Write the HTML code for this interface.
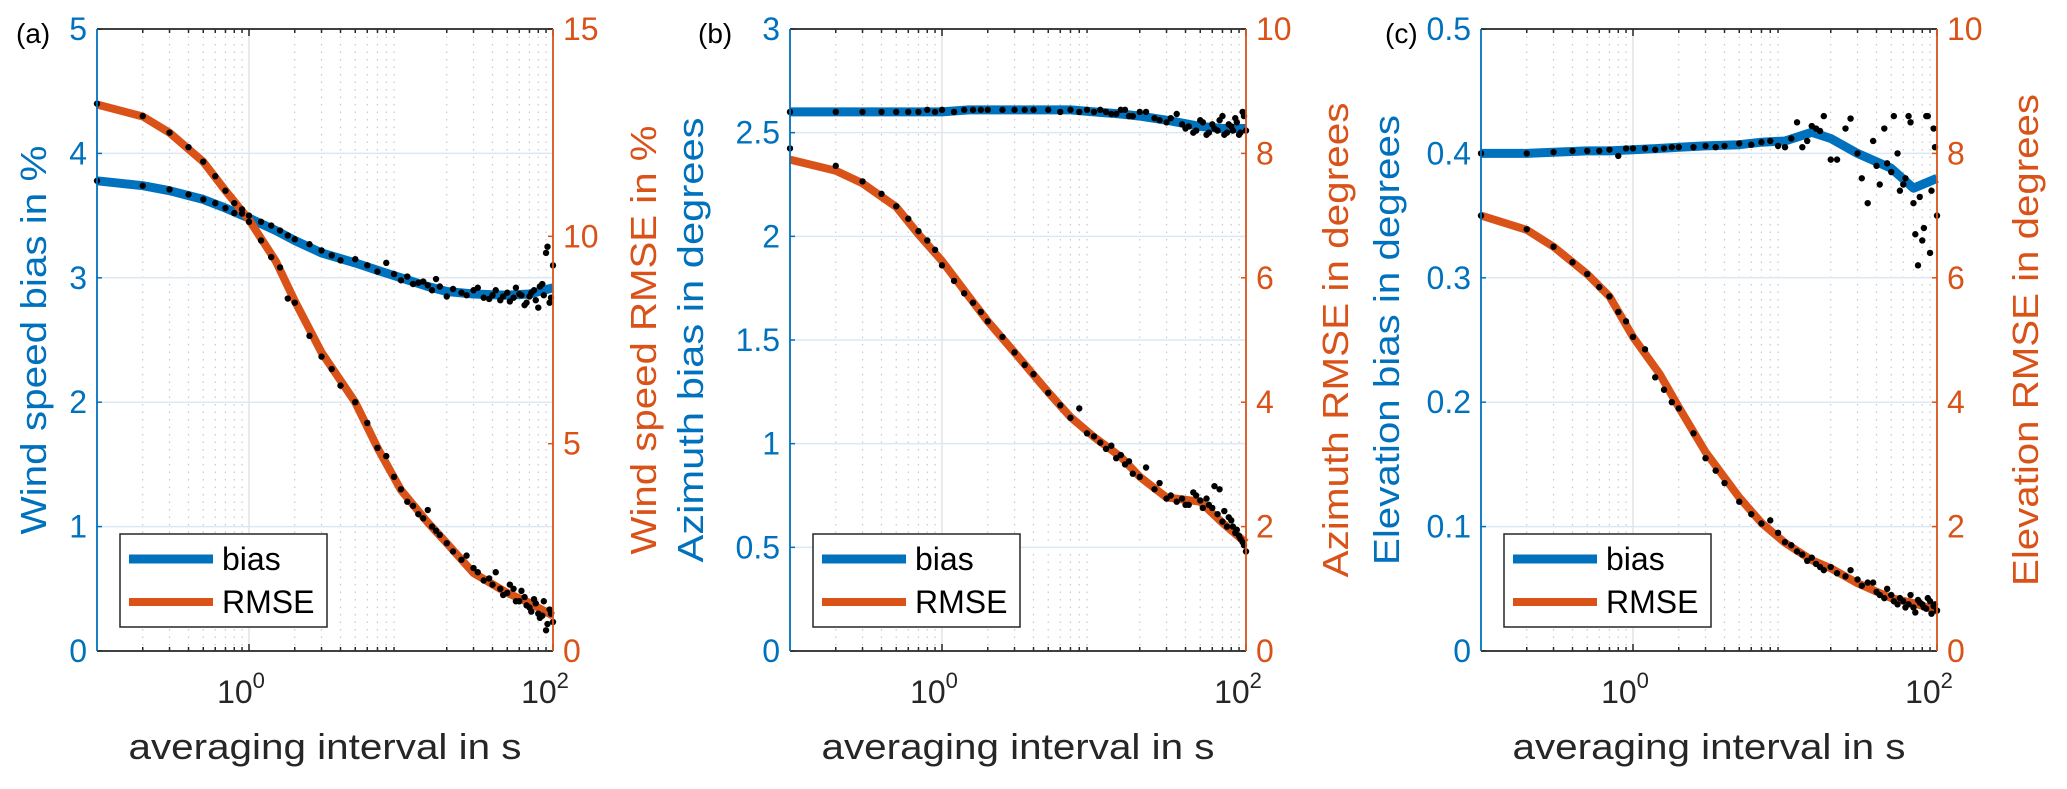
<!DOCTYPE html>
<html><head><meta charset="utf-8"><style>
html,body{margin:0;padding:0;background:#fff;}
svg{display:block;font-family:"Liberation Sans",Arial,sans-serif;}
</style></head><body>
<svg id="fig" width="2067" height="789" viewBox="0 0 2067 789" xmlns="http://www.w3.org/2000/svg"></svg>
<script>
// ---- shared x data ----
const lineX = [0.1,0.2,0.3,0.5,0.7,1,1.5,2,3,5,7,10,15,20,30,50,70,100];
const dotX = [0.1,0.2,0.3,0.4,0.5,0.6,0.7,0.8,0.9,1,1.2,1.4,1.6,1.8,2,2.5,3,3.5,4,5,6,7,8,9,10,12,14,16,18,20,25,30,35,40,45,50,55,60,65,70,75,80,85,90,95,100];
const dotX2 = [11,13,15,17,22,27,32,38,42,47,52,57,62,67,72,77,82,87,92,97];
// ---- panel (a) ----
const aBiasLine = [3.78,3.74,3.70,3.63,3.56,3.48,3.38,3.30,3.20,3.12,3.06,3.00,2.93,2.89,2.87,2.86,2.87,2.92];
const aRmseLine = [13.18,12.89,12.5,11.8,11.1,10.4,9.4,8.44,7.2,6.0,4.9,3.88,3.1,2.6,1.88,1.40,1.16,0.85];
const aBiasDots = [3.78,3.74,3.71,3.67,3.63,3.60,3.56,3.52,3.55,3.50,3.45,3.42,3.38,3.34,3.31,3.27,3.22,3.18,3.14,3.15,3.10,3.05,3.12,3.03,2.98,2.95,2.97,2.90,2.93,2.85,2.88,2.90,2.84,2.86,2.82,2.88,2.84,2.87,2.78,2.85,2.90,2.76,2.95,3.20,2.80,3.10];
const aRmseDots = [13.2,12.9,12.5,12.15,11.8,11.45,11.1,10.8,10.55,10.35,9.9,9.5,9.25,8.5,8.4,7.6,7.1,6.8,6.4,6.0,5.5,4.9,4.7,4.2,3.9,3.5,3.2,3.0,2.8,2.6,2.2,2.0,1.7,1.6,1.5,1.4,1.5,1.2,1.3,1.05,1.25,0.9,0.85,0.5,1.0,0.7];
const aBiasDots2 = [3.01,2.96,2.94,2.99,2.91,2.86,2.92,2.83,2.90,2.85,2.81,2.92,2.86,2.80,2.88,2.82,2.93,2.86,3.25,2.84];
const aRmseDots2 = [3.6,3.3,3.4,2.9,2.4,2.3,1.9,1.75,1.9,1.35,1.6,1.2,1.45,1.1,0.95,1.15,0.8,1.2,0.65,0.9];
// ---- panel (b) ----
const bBiasLine = [2.60,2.60,2.60,2.60,2.60,2.60,2.61,2.61,2.61,2.61,2.61,2.60,2.59,2.58,2.56,2.53,2.52,2.52];
const bRmseLine = [7.9,7.72,7.52,7.14,6.7,6.27,5.7,5.3,4.8,4.16,3.76,3.44,3.12,2.8,2.47,2.4,2.06,1.74];
const bBiasDots = [2.60,2.60,2.60,2.60,2.60,2.60,2.60,2.61,2.60,2.61,2.60,2.61,2.61,2.61,2.61,2.61,2.61,2.61,2.61,2.61,2.60,2.61,2.60,2.61,2.60,2.60,2.59,2.61,2.58,2.60,2.57,2.55,2.59,2.52,2.50,2.56,2.49,2.54,2.51,2.58,2.50,2.53,2.57,2.49,2.60,2.51];
const bRmseDots = [8.08,7.8,7.55,7.35,7.15,6.95,6.75,6.6,6.45,6.2,5.95,5.75,5.6,5.45,5.3,5.05,4.8,4.6,4.45,4.15,3.95,3.75,3.9,3.5,3.45,3.25,3.1,3.0,2.85,2.8,2.6,2.45,2.4,2.35,2.55,2.42,2.45,2.3,2.2,2.08,2.0,2.1,1.9,1.85,1.75,1.6];
const bBiasDots2 = [2.61,2.59,2.61,2.58,2.60,2.56,2.57,2.54,2.53,2.51,2.55,2.50,2.52,2.56,2.49,2.54,2.51,2.55,2.50,2.58];
const bRmseDots2 = [3.35,3.3,3.15,3.05,2.95,2.7,2.5,2.45,2.35,2.5,2.3,2.35,2.65,2.6,2.25,2.15,2.0,1.95,1.8,1.7];
// ---- panel (c) ----
const cBiasLine = [0.400,0.400,0.401,0.402,0.402,0.403,0.404,0.405,0.406,0.407,0.409,0.410,0.417,0.412,0.400,0.388,0.372,0.380];
const cRmseLine = [7.0,6.77,6.5,6.06,5.7,5.05,4.45,3.92,3.2,2.47,2.06,1.74,1.46,1.33,1.09,0.85,0.77,0.65];
const cBiasDots = [0.400,0.400,0.401,0.402,0.402,0.402,0.403,0.398,0.404,0.404,0.404,0.403,0.404,0.405,0.405,0.405,0.406,0.405,0.406,0.408,0.407,0.409,0.410,0.406,0.405,0.425,0.410,0.420,0.430,0.395,0.420,0.400,0.360,0.390,0.420,0.385,0.400,0.375,0.430,0.360,0.310,0.330,0.430,0.320,0.420,0.350];
const cRmseDots = [7.0,6.78,6.5,6.25,6.06,5.85,5.7,5.45,5.3,5.05,4.85,4.4,4.2,4.0,3.9,3.5,3.1,2.9,2.7,2.4,2.2,2.05,2.1,1.9,1.75,1.6,1.45,1.4,1.3,1.35,1.2,1.15,1.1,0.95,0.85,0.9,0.75,0.8,0.75,0.7,0.82,0.75,0.68,0.8,0.72,0.65];
const cBiasDots2 = [0.412,0.405,0.422,0.418,0.395,0.428,0.38,0.41,0.375,0.392,0.43,0.37,0.38,0.425,0.335,0.365,0.34,0.43,0.37,0.405];
const cRmseDots2 = [1.7,1.55,1.5,1.35,1.25,1.3,1.05,1.1,0.9,1.0,0.8,0.85,0.7,0.9,0.62,0.78,0.7,0.85,0.6,0.75];
// ---- tick labels ----
const aLeftTicks = [0,1,2,3,4,5];
const aRightTicks = [0,5,10,15];
const bLeftTicks = [0,0.5,1,1.5,2,2.5,3];
const bRightTicks = [0,2,4,6,8,10];
const cLeftTicks = [0,0.1,0.2,0.3,0.4,0.5];
const cRightTicks = [0,2,4,6,8,10];

const NS="http://www.w3.org/2000/svg";
const svg=document.getElementById('fig');
const BLUE="#0072BD", ORANGE="#D95319";
const TOP=29, BOT=651, W=456;
function mk(tag,parent){const e=document.createElementNS(NS,tag);parent.appendChild(e);return e;}

const panels=[
 {id:'a',x0:97,lmax:5,rmax:15,lt:aLeftTicks,rt:aRightTicks,bl:aBiasLine,rl:aRmseLine,bd:aBiasDots,rd:aRmseDots,bd2:aBiasDots2,rd2:aRmseDots2,
  llab:'Wind speed bias in %',rlab:'Wind speed RMSE in %',lOff:64,lLen:389,rLen:429,rOff:90},
 {id:'b',x0:790,lmax:3,rmax:10,lt:bLeftTicks,rt:bRightTicks,bl:bBiasLine,rl:bRmseLine,bd:bBiasDots,rd:bRmseDots,bd2:bBiasDots2,rd2:bRmseDots2,
  llab:'Azimuth bias in degrees',rlab:'Azimuth RMSE in degrees',lOff:100,lLen:445,rLen:475,rOff:89},
 {id:'c',x0:1481,lmax:0.5,rmax:10,lt:cLeftTicks,rt:cRightTicks,bl:cBiasLine,rl:cRmseLine,bd:cBiasDots,rd:cRmseDots,bd2:cBiasDots2,rd2:cRmseDots2,
  llab:'Elevation bias in degrees',rlab:'Elevation RMSE in degrees',lOff:95,lLen:450,rLen:492,rOff:88}
];

panels.forEach(p=>{
 const g=mk('g',svg);
 
 
 const xs=v=>p.x0+(Math.log10(v)+1)/3*W;
 const yl=v=>BOT-(v/p.lmax)*(BOT-TOP);
 const yr=v=>BOT-(v/p.rmax)*(BOT-TOP);
 const x1=p.x0+W;
 for(let d=-1;d<2;d++){for(let m=2;m<=9;m++){const xv=xs(m*Math.pow(10,d));
  const l=mk('line',g);l.setAttribute('x1',xv);l.setAttribute('x2',xv);l.setAttribute('y1',TOP);l.setAttribute('y2',BOT);
  l.setAttribute('stroke','#c8c8c8');l.setAttribute('stroke-width','1.2');l.setAttribute('stroke-dasharray','1.5 6');
  
  [TOP,BOT].forEach(yy=>{const t=mk('line',g);t.setAttribute('x1',xv);t.setAttribute('x2',xv);t.setAttribute('y1',yy);t.setAttribute('y2',yy===TOP?yy+4:yy-4);t.setAttribute('stroke','#262626');t.setAttribute('stroke-width','1.5');
   });
 }}
 p.lt.forEach(v=>{const y=yl(v);const l=mk('line',g);l.setAttribute('x1',p.x0);l.setAttribute('x2',x1);l.setAttribute('y1',y);l.setAttribute('y2',y);
  l.setAttribute('stroke','#dce9f5');l.setAttribute('stroke-width','1.5');
  
  const t=mk('line',g);t.setAttribute('x1',p.x0);t.setAttribute('x2',p.x0+5);t.setAttribute('y1',y);t.setAttribute('y2',y);t.setAttribute('stroke',BLUE);t.setAttribute('stroke-width','1.5');
  
  const tx=mk('text',g);tx.textContent=String(v);tx.setAttribute('x',p.x0-10);tx.setAttribute('y',y+11);tx.setAttribute('text-anchor','end');tx.setAttribute('font-size','32');tx.setAttribute('fill',BLUE);
  });
 p.rt.forEach(v=>{const y=yr(v);
  const t=mk('line',g);t.setAttribute('x1',x1-5);t.setAttribute('x2',x1);t.setAttribute('y1',y);t.setAttribute('y2',y);t.setAttribute('stroke',ORANGE);t.setAttribute('stroke-width','1.5');
  
  const tx=mk('text',g);tx.textContent=String(v);tx.setAttribute('x',x1+10);tx.setAttribute('y',y+11);tx.setAttribute('font-size','32');tx.setAttribute('fill',ORANGE);
  });
 const xm=xs(1);const lm=mk('line',g);lm.setAttribute('x1',xm);lm.setAttribute('x2',xm);lm.setAttribute('y1',TOP);lm.setAttribute('y2',BOT);lm.setAttribute('stroke','#e3e3e3');lm.setAttribute('stroke-width','1.5');
 
 [[1,'0'],[100,'2']].forEach(([v,e])=>{const xv=xs(v);
  [TOP,BOT].forEach(yy=>{const t=mk('line',g);t.setAttribute('x1',xv);t.setAttribute('x2',xv);t.setAttribute('y1',yy);t.setAttribute('y2',yy===TOP?yy+7:yy-7);t.setAttribute('stroke','#262626');t.setAttribute('stroke-width','1.5');
   });
  const tx=mk('text',g);tx.setAttribute('x',xv-8);tx.setAttribute('y',703);tx.setAttribute('text-anchor','middle');tx.setAttribute('font-size','32');tx.setAttribute('fill','#262626');
  
  tx.textContent='10';const sp=mk('tspan',tx);sp.setAttribute('font-size','22');sp.setAttribute('dy','-15');sp.textContent=e;});
 function path(arr,fy){return lineX.map((xv,i)=>(i?'L':'M')+xs(xv).toFixed(1)+','+fy(arr[i]).toFixed(1)).join(' ');}
 const pb=mk('path',g);pb.setAttribute('d',path(p.bl,yl));pb.setAttribute('fill','none');pb.setAttribute('stroke',BLUE);pb.setAttribute('stroke-width','9');pb.setAttribute('stroke-linejoin','round');
 
 const pr=mk('path',g);pr.setAttribute('d',path(p.rl,yr));pr.setAttribute('fill','none');pr.setAttribute('stroke',ORANGE);pr.setAttribute('stroke-width','8');pr.setAttribute('stroke-linejoin','round');
 
 function dots(xarr,barr,rarr){xarr.forEach((xv,i)=>{
  const c1=mk('circle',g);c1.setAttribute('cx',xs(xv));c1.setAttribute('cy',yl(barr[i]));c1.setAttribute('r','3.2');c1.setAttribute('fill','#000');
  
  const c2=mk('circle',g);c2.setAttribute('cx',xs(xv));c2.setAttribute('cy',yr(rarr[i]));c2.setAttribute('r','3.2');c2.setAttribute('fill','#000');
  });}
 dots(dotX,p.bd,p.rd);
 dots(dotX2,p.bd2,p.rd2);
 const ax=(xa,ya,xb,yb,c,n)=>{const l=mk('line',g);l.setAttribute('x1',xa);l.setAttribute('y1',ya);l.setAttribute('x2',xb);l.setAttribute('y2',yb);l.setAttribute('stroke',c);l.setAttribute('stroke-width','1.8');
  };
 ax(p.x0,TOP,x1,TOP,'#262626','top-axis');ax(p.x0,BOT,x1,BOT,'#262626','x-axis');
 ax(p.x0,TOP,p.x0,BOT,BLUE,'left-y-axis');ax(x1,TOP,x1,BOT,ORANGE,'right-y-axis');
 const cy=(TOP+BOT)/2;
 const lt=mk('text',g);lt.textContent=p.llab;lt.setAttribute('font-size','36');lt.setAttribute('fill',BLUE);lt.setAttribute('text-anchor','middle');
 lt.setAttribute('textLength',p.lLen);lt.setAttribute('lengthAdjust','spacingAndGlyphs');
 lt.setAttribute('transform',`translate(${p.x0-p.lOff+13},${cy}) rotate(-90)`);
 
 const rt=mk('text',g);rt.textContent=p.rlab;rt.setAttribute('font-size','36');rt.setAttribute('fill',ORANGE);rt.setAttribute('text-anchor','middle');
 rt.setAttribute('textLength',p.rLen);rt.setAttribute('lengthAdjust','spacingAndGlyphs');
 rt.setAttribute('transform',`translate(${x1+p.rOff+13},${cy}) rotate(-90)`);
 
 const xt=mk('text',g);xt.textContent='averaging interval in s';xt.setAttribute('font-size','36');xt.setAttribute('fill','#262626');xt.setAttribute('text-anchor','middle');
 xt.setAttribute('x',p.x0+W/2);xt.setAttribute('y',759);xt.setAttribute('textLength','393');xt.setAttribute('lengthAdjust','spacingAndGlyphs');
 
 const pl=mk('text',g);pl.textContent='('+p.id+')';pl.setAttribute('font-size','28');pl.setAttribute('fill','#000');
 pl.setAttribute('x',p.id==='a'?16:(p.x0-(p.id==='b'?92:96)));pl.setAttribute('y',43);
 
 const lg=mk('g',g);
 const lx=p.x0+23;
 const r=mk('rect',lg);r.setAttribute('x',lx);r.setAttribute('y',534);r.setAttribute('width',207);r.setAttribute('height',93);r.setAttribute('fill','#fff');r.setAttribute('stroke','#262626');r.setAttribute('stroke-width','1.5');
 
 [['bias',BLUE,559,9],['RMSE',ORANGE,602,8]].forEach(([t,c,y,w])=>{
  const l=mk('line',lg);l.setAttribute('x1',lx+9);l.setAttribute('x2',lx+93);l.setAttribute('y1',y);l.setAttribute('y2',y);l.setAttribute('stroke',c);l.setAttribute('stroke-width',w);
  
  const tx=mk('text',lg);tx.textContent=t;tx.setAttribute('x',lx+102);tx.setAttribute('y',y+11);tx.setAttribute('font-size','32');tx.setAttribute('fill','#000');
  });
});
</script>
</body></html>
